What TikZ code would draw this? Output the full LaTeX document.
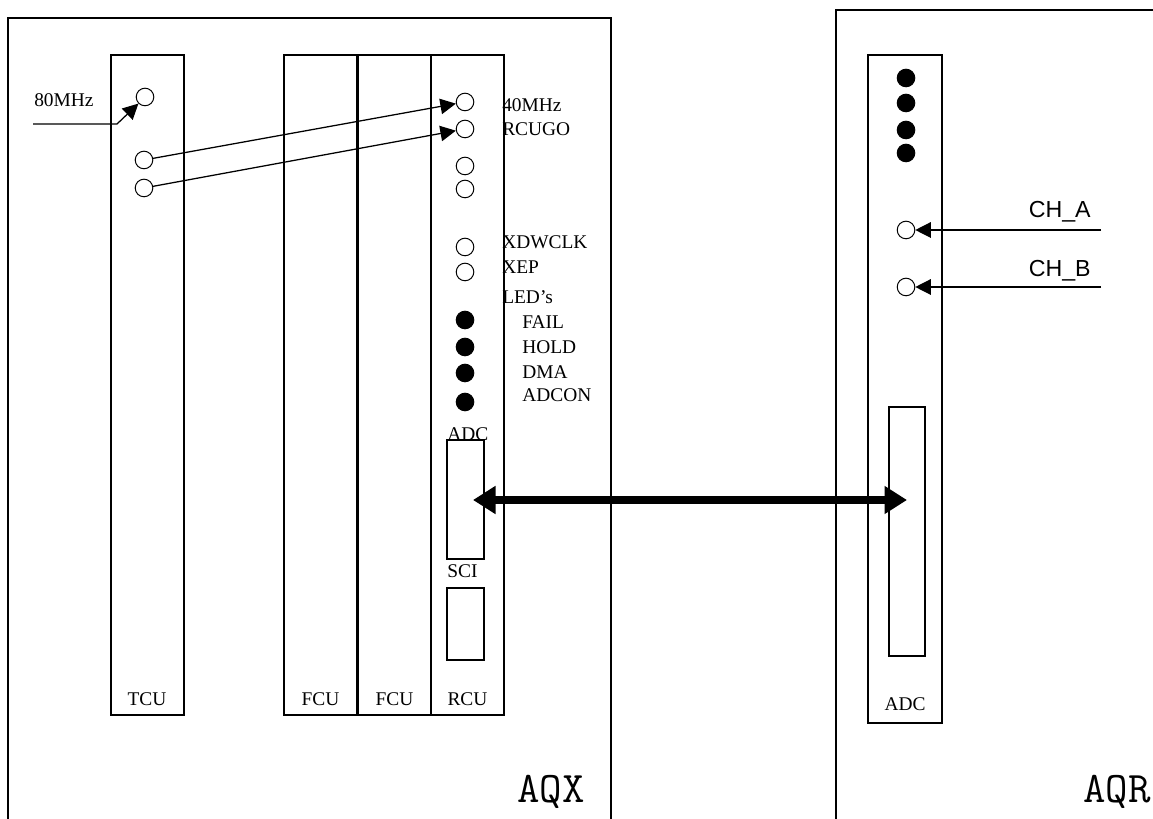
\documentclass[tikz,border=0pt]{standalone}
\usepackage{fontspec}
\setmainfont{Liberation Serif}
\newfontfamily\chfont{Liberation Sans}
\usetikzlibrary{arrows.meta}
\tikzset{
  port/.style={circle,draw,line width=0.7pt,inner sep=0pt,minimum size=0.44cm},
  led/.style={port,fill=black},
  lbl/.style={inner sep=0pt,font=\fontsize{13.8pt}{15pt}\selectfont},
  chlbl/.style={inner sep=0pt,anchor=east,font=\chfont\fontsize{16.5pt}{18pt}\selectfont},
  cratelbl/.style={inner sep=0pt,anchor=base east,font=\ttfamily\fontsize{31pt}{32pt}\selectfont},
  sig/.style={-{Triangle[length=11pt,width=11pt]},line width=0.9pt},
  bus/.style={{Triangle[length=16pt,width=19pt]}-{Triangle[length=16pt,width=19pt]},line width=5.5pt},
  crate/.style={line width=1.3pt},
  card/.style={line width=1.2pt},
}
\begin{document}
\begin{tikzpicture}[x=0.025cm,y=-0.025cm]
  \useasboundingbox (0,0) rectangle (1153,819);
  % Crates
  \draw[crate] (8,819) -- (8,18) -- (611,18) -- (611,819);
  \draw[crate] (836,819) -- (836,10) -- (1153,10);
  \node[cratelbl] (aqx) at (585,802) {AQX};
  \node[cratelbl] (aqr) at (1151,802) {AQR};

  % Cards of AQX
  \draw[card] (111,55) rectangle (184,715);
  \node[lbl] (tcu) at (147,699) {TCU};
  \foreach \x/\name [count=\i] in {284/FCU,358/FCU,431/RCU} {
    \draw[card] (\x,55) rectangle ++(73,660);
    \node[lbl] (slot\i) at (\x+36.5,699) {\name};
  }

  % TCU ports
  \node[port] (tcu80) at (145,97) {};
  \node[port] (tcuclk) at (144,160) {};
  \node[port] (tcugo) at (144,188) {};
  \node[lbl,anchor=west] (l80) at (34,100) {80MHz};
  \coordinate (in80) at (33,124);
  \coordinate (bend80) at (117,124);
  \draw[sig] (in80) -- (bend80) -- (tcu80.south west);

  % RCU ports and LEDs
  \foreach \name/\y in {clk40/102,rcugo/129,spa/166,spb/189,xdwclk/247,xep/272}
    \node[port] (rcu\name) at (465,\y) {};
  \foreach \name/\y in {fail/320,hold/347,dma/373,adcon/402}
    \node[led] (led\name) at (465,\y) {};
  \foreach \name/\x/\y/\txt in {clk40/502/105/40MHz,rcugo/502/129/RCUGO,
      xdwclk/502/242/XDWCLK,xep/502/267/XEP,leds/502/297/LED's,
      fail/522/322/FAIL,hold/522/347/HOLD,dma/522/372/DMA,adcon/522/395/ADCON}
    \node[lbl,anchor=west] (l\name) at (\x,\y) {\txt};
  \draw[sig] (tcuclk) -- (rcuclk40);
  \draw[sig] (tcugo) -- (rcurcugo);

  % RCU connectors
  \draw[card] (447,440) rectangle (484,559);
  \node[lbl,anchor=south west] (ladc) at (447,441) {ADC};
  \draw[card] (447,588) rectangle (484,660);
  \node[lbl,anchor=west] (lsci) at (447,571) {SCI};

  % ADC card of AQR
  \draw[card] (868,55) rectangle (942,723);
  \node[lbl] (adccard) at (905,704) {ADC};
  \draw[card] (889,407) rectangle (925,656);
  \foreach \y [count=\i] in {78,103,130,153}
    \node[led] (adcled\i) at (906,\y) {};
  \node[port] (cha) at (906,230) {};
  \node[port] (chb) at (906,287) {};
  \coordinate (chain) at (1101,230);
  \coordinate (chbin) at (1101,287);
  \draw[sig] (chain) -- (cha);
  \draw[sig] (chbin) -- (chb);
  \node[chlbl] (lcha) at (1091,212) {CH\_A};
  \node[chlbl] (lchb) at (1091,271) {CH\_B};

  % Link between the crates
  \coordinate (rcuadc) at (473,500);
  \coordinate (adcin) at (907,500);
  \draw[bus] (rcuadc) -- (adcin);
\end{tikzpicture}
\end{document}
